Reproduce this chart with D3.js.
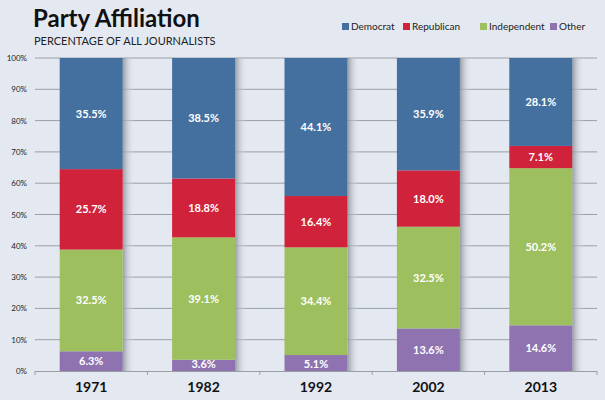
<!DOCTYPE html>
<html><head><meta charset="utf-8">
<script src="https://cdn.jsdelivr.net/npm/d3@7/dist/d3.min.js"></script>
<style>
html,body{margin:0;padding:0;background:#e4e9f1;}
svg{display:block;font-family:Lato,"Open Sans",sans-serif;}
</style></head>
<body><svg id="c" width="605" height="400"></svg>
<script>
const years = ["1971","1982","1992","2002","2013"];
const series = ["Other","Independent","Republican","Democrat"];
const other = [6.3,3.6,5.1,13.6,14.6];
const independent = [32.5,39.1,34.4,32.5,50.2];
const republican = [25.7,18.8,16.4,18.0,7.1];
const democrat = [35.5,38.5,44.1,35.9,28.1];
const yTicks = [0,10,20,30,40,50,60,70,80,90,100];
const legendOrder = ["Democrat","Republican","Independent","Other"];
const colors = {Democrat:"#44709f",Republican:"#d0223a",Independent:"#9dbf5d",Other:"#8e73b0"};

const rows = years.map((y,i)=>({year:y,Other:other[i],Independent:independent[i],Republican:republican[i],Democrat:democrat[i]}));
const stacked = d3.stack().keys(series)(rows);

const svg = d3.select("#c");
const L=35,R=597,T=58,B=371;
const x = d3.scaleBand().domain(years).range([L,R]).paddingInner(0).paddingOuter(0);
const y = d3.scaleLinear().domain([0,100]).range([B,T]);
const bw = 63;
const defs = svg.append("defs");
const g = defs.append("linearGradient").attr("id","sh").attr("x1","0").attr("x2","1");
g.append("stop").attr("offset","0").attr("stop-color","#8f949c").attr("stop-opacity",0.9);
g.append("stop").attr("offset","0.4").attr("stop-color","#b9bec6").attr("stop-opacity",0.6);
g.append("stop").attr("offset","1").attr("stop-color","#e4e9f1").attr("stop-opacity",0);

// grid
svg.append("g").selectAll("line").data(yTicks.filter(d=>d>0)).join("line")
  .attr("x1",L).attr("x2",R).attr("y1",d=>y(d)).attr("y2",d=>y(d))
  .attr("stroke","#9a9ea4").attr("stroke-width",1);
// y labels
svg.append("g").selectAll("text").data(yTicks).join("text")
  .attr("x",27).attr("y",d=>y(d)+3).attr("text-anchor","end")
  .attr("font-size",8).attr("fill","#222").text(d=>d+"%");

// shadows
svg.append("g").selectAll("rect").data(years).join("rect")
  .attr("x",d=>x(d)+x.bandwidth()/2+bw/2).attr("y",y(100)).attr("width",12)
  .attr("height",y(0)-y(100)).attr("fill","url(#sh)");

// bars
const bars = svg.append("g");
stacked.forEach(s=>{
  bars.append("g").selectAll("rect").data(s).join("rect")
    .attr("x",d=>x(d.data.year)+x.bandwidth()/2-bw/2).attr("width",bw)
    .attr("y",d=>y(d[1])).attr("height",d=>y(d[0])-y(d[1]))
    .attr("fill",colors[s.key]);
  bars.append("g").selectAll("text").data(s).join("text")
    .attr("x",d=>x(d.data.year)+x.bandwidth()/2)
    .attr("y",d=>{const m=(y(d[0])+y(d[1]))/2; return s.key==="Other" && (d[1]-d[0])<6 ? y(d[0])-3 : m+4;})
    .attr("text-anchor","middle").attr("font-size",11).attr("font-weight","bold")
    .attr("fill","#fff").text(d=>d.data[s.key].toFixed(1)+"%");
});

// x axis
svg.append("line").attr("x1",L).attr("x2",R).attr("y1",B+0.5).attr("y2",B+0.5).attr("stroke","#9a9ea4");
const tks = years.map(d=>x(d)).concat([R]);
svg.append("g").selectAll("line").data(tks).join("line")
  .attr("x1",d=>d).attr("x2",d=>d).attr("y1",B).attr("y2",B+4).attr("stroke","#9a9ea4");
svg.append("g").selectAll("text").data(years).join("text")
  .attr("x",d=>x(d)+x.bandwidth()/2).attr("y",392).attr("text-anchor","middle")
  .attr("font-size",14).attr("font-weight","bold").attr("fill","#111").text(d=>d);

// title
svg.append("text").attr("x",33).attr("y",27).attr("font-size",24).attr("font-weight","bold").attr("fill","#111").text("Party Affiliation");
svg.append("text").attr("x",34).attr("y",45).attr("font-size",11).attr("fill","#222").text("PERCENTAGE OF ALL JOURNALISTS");

// legend
const lx = [342,403,480,550];
const lg = svg.append("g").selectAll("g").data(legendOrder).join("g")
  .attr("transform",(d,i)=>`translate(${lx[i]},24)`);
lg.append("rect").attr("width",7).attr("height",7).attr("y",-1).attr("fill",d=>colors[d]);
lg.append("text").attr("x",9).attr("y",6).attr("font-size",10).attr("fill","#222").text(d=>d);
</script></body></html>
